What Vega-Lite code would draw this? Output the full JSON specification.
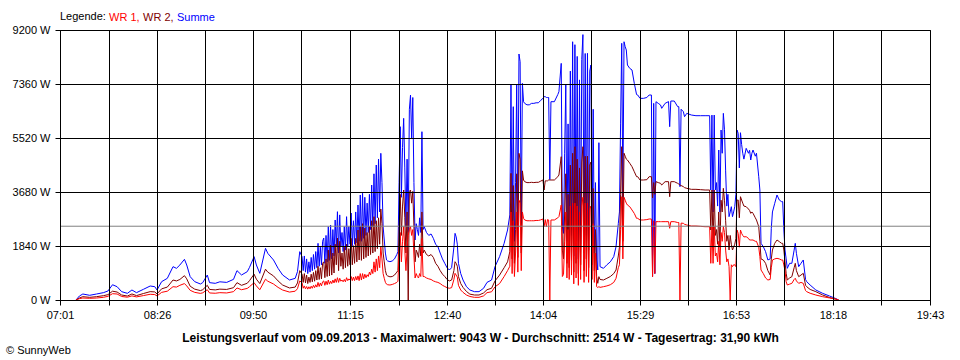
{
  "$schema": "https://vega.github.io/schema/vega-lite/v6.json",
  "width": 870,
  "height": 270,
  "autosize": "none",
  "padding": {"left": 60, "top": 30, "right": 30, "bottom": 60},
  "background": "#ffffff",
  "config": {
    "view": {"stroke": "#000000", "strokeWidth": 1},
    "font": "Liberation Sans"
  },
  "title": {"text": "© SunnyWeb", "orient": "bottom", "anchor": "start", "frame": "group", "dx": -54, "offset": 2, "font": "Liberation Sans", "fontSize": 11, "fontWeight": "normal", "color": "#000000", "baseline": "top"},
  "data": {
    "format": {"parse": {"t": "date:'%H:%M'"}},
    "values": [
      {"t":"07:15","wr1":0,"wr2":0,"summe":0},
      {"t":"07:18","wr1":45,"wr2":68,"summe":136},
      {"t":"07:21","wr1":68,"wr2":113,"summe":204},
      {"t":"07:27","wr1":57,"wr2":91,"summe":160},
      {"t":"07:33","wr1":68,"wr2":113,"summe":204},
      {"t":"07:39","wr1":91,"wr2":147,"summe":250},
      {"t":"07:43","wr1":125,"wr2":182,"summe":307},
      {"t":"07:47","wr1":215,"wr2":300,"summe":520},
      {"t":"07:51","wr1":204,"wr2":272,"summe":454},
      {"t":"07:55","wr1":120,"wr2":170,"summe":284},
      {"t":"08:00","wr1":95,"wr2":135,"summe":227},
      {"t":"08:04","wr1":140,"wr2":205,"summe":341},
      {"t":"08:08","wr1":105,"wr2":150,"summe":250},
      {"t":"08:14","wr1":150,"wr2":220,"summe":363},
      {"t":"08:20","wr1":195,"wr2":285,"summe":477},
      {"t":"08:24","wr1":185,"wr2":275,"summe":454},
      {"t":"08:26","wr1":140,"wr2":205,"summe":341},
      {"t":"08:30","wr1":260,"wr2":380,"summe":625},
      {"t":"08:35","wr1":300,"wr2":440,"summe":738},
      {"t":"08:40","wr1":454,"wr2":681,"summe":1136},
      {"t":"08:43","wr1":440,"wr2":650,"summe":1079},
      {"t":"08:46","wr1":500,"wr2":700,"summe":1193},
      {"t":"08:50","wr1":560,"wr2":829,"summe":1386},
      {"t":"08:52","wr1":480,"wr2":720,"summe":1193},
      {"t":"08:55","wr1":330,"wr2":470,"summe":795},
      {"t":"08:59","wr1":260,"wr2":370,"summe":625},
      {"t":"09:04","wr1":225,"wr2":320,"summe":545},
      {"t":"09:06","wr1":245,"wr2":350,"summe":591},
      {"t":"09:10","wr1":350,"wr2":500,"summe":850},
      {"t":"09:12","wr1":240,"wr2":360,"summe":591},
      {"t":"09:17","wr1":230,"wr2":345,"summe":568},
      {"t":"09:21","wr1":250,"wr2":370,"summe":620},
      {"t":"09:27","wr1":240,"wr2":360,"summe":600},
      {"t":"09:33","wr1":285,"wr2":420,"summe":704},
      {"t":"09:36","wr1":410,"wr2":590,"summe":1000},
      {"t":"09:40","wr1":350,"wr2":500,"summe":852},
      {"t":"09:45","wr1":395,"wr2":570,"summe":965},
      {"t":"09:47","wr1":454,"wr2":660,"summe":1113},
      {"t":"09:51","wr1":590,"wr2":880,"summe":1477},
      {"t":"09:53","wr1":480,"wr2":710,"summe":1193},
      {"t":"09:56","wr1":350,"wr2":560,"summe":909},
      {"t":"10:01","wr1":710,"wr2":1050,"summe":1761},
      {"t":"10:03","wr1":640,"wr2":950,"summe":1590},
      {"t":"10:08","wr1":545,"wr2":820,"summe":1363},
      {"t":"10:12","wr1":430,"wr2":650,"summe":1079},
      {"t":"10:16","wr1":340,"wr2":510,"summe":852},
      {"t":"10:22","wr1":270,"wr2":410,"summe":681},
      {"t":"10:27","wr1":300,"wr2":440,"summe":738},
      {"t":"10:29","wr1":385,"wr2":580,"summe":965},
      {"t":"10:31","wr1":650,"wr2":1000,"summe":1647},
      {"t":"10:33","wr1":590,"wr2":880,"summe":1477},
      {"t":"10:34","wr1":400,"wr2":600,"summe":1000},
      {"t":"10:35","wr1":480,"wr2":900,"summe":1500},
      {"t":"10:36","wr1":380,"wr2":580,"summe":950},
      {"t":"10:37","wr1":460,"wr2":850,"summe":1400},
      {"t":"10:38","wr1":370,"wr2":560,"summe":900},
      {"t":"10:39","wr1":450,"wr2":780,"summe":1300},
      {"t":"10:40","wr1":380,"wr2":600,"summe":950},
      {"t":"10:41","wr1":470,"wr2":880,"summe":1450},
      {"t":"10:42","wr1":400,"wr2":620,"summe":1000},
      {"t":"10:43","wr1":500,"wr2":940,"summe":1550},
      {"t":"10:44","wr1":420,"wr2":640,"summe":1050},
      {"t":"10:45","wr1":520,"wr2":1000,"summe":1650},
      {"t":"10:46","wr1":440,"wr2":680,"summe":1100},
      {"t":"10:47","wr1":600,"wr2":1150,"summe":1931},
      {"t":"10:48","wr1":460,"wr2":700,"summe":1150},
      {"t":"10:49","wr1":580,"wr2":1100,"summe":1800},
      {"t":"10:50","wr1":480,"wr2":720,"summe":1200},
      {"t":"10:51","wr1":620,"wr2":1250,"summe":2000},
      {"t":"10:52","wr1":650,"wr2":1300,"summe":2112},
      {"t":"10:53","wr1":500,"wr2":760,"summe":1250},
      {"t":"10:54","wr1":640,"wr2":1400,"summe":2200},
      {"t":"10:55","wr1":520,"wr2":800,"summe":1300},
      {"t":"10:56","wr1":680,"wr2":1700,"summe":2500},
      {"t":"10:57","wr1":540,"wr2":820,"summe":1350},
      {"t":"10:58","wr1":640,"wr2":1874,"summe":2555},
      {"t":"10:59","wr1":560,"wr2":850,"summe":1400},
      {"t":"11:00","wr1":680,"wr2":1600,"summe":2400},
      {"t":"11:01","wr1":580,"wr2":920,"summe":1500},
      {"t":"11:02","wr1":720,"wr2":1900,"summe":2726},
      {"t":"11:03","wr1":600,"wr2":1200,"summe":1817},
      {"t":"11:04","wr1":760,"wr2":2112,"summe":3009},
      {"t":"11:05","wr1":600,"wr2":1000,"summe":1600},
      {"t":"11:06","wr1":740,"wr2":2000,"summe":2900},
      {"t":"11:07","wr1":640,"wr2":1150,"summe":1817},
      {"t":"11:08","wr1":680,"wr2":1600,"summe":2300},
      {"t":"11:09","wr1":620,"wr2":1050,"summe":1650},
      {"t":"11:10","wr1":700,"wr2":1800,"summe":2500},
      {"t":"11:11","wr1":620,"wr2":1100,"summe":1700},
      {"t":"11:12","wr1":760,"wr2":1900,"summe":2839},
      {"t":"11:13","wr1":660,"wr2":1150,"summe":1817},
      {"t":"11:14","wr1":720,"wr2":1750,"summe":2500},
      {"t":"11:15","wr1":680,"wr2":1200,"summe":1900},
      {"t":"11:16","wr1":800,"wr2":2100,"summe":2964},
      {"t":"11:17","wr1":660,"wr2":1200,"summe":1850},
      {"t":"11:18","wr1":780,"wr2":1850,"summe":2700},
      {"t":"11:19","wr1":660,"wr2":1250,"summe":1900},
      {"t":"11:20","wr1":800,"wr2":2100,"summe":3000},
      {"t":"11:21","wr1":680,"wr2":1300,"summe":1950},
      {"t":"11:22","wr1":820,"wr2":2385,"summe":3237},
      {"t":"11:23","wr1":660,"wr2":1363,"summe":2000},
      {"t":"11:24","wr1":900,"wr2":2500,"summe":3578},
      {"t":"11:25","wr1":680,"wr2":1350,"summe":2000},
      {"t":"11:26","wr1":900,"wr2":2600,"summe":3635},
      {"t":"11:27","wr1":720,"wr2":1400,"summe":2100},
      {"t":"11:28","wr1":880,"wr2":2450,"summe":3500},
      {"t":"11:29","wr1":760,"wr2":1450,"summe":2200},
      {"t":"11:30","wr1":860,"wr2":2300,"summe":3300},
      {"t":"11:31","wr1":800,"wr2":1500,"summe":2300},
      {"t":"11:32","wr1":950,"wr2":2500,"summe":3600},
      {"t":"11:33","wr1":850,"wr2":1550,"summe":2400},
      {"t":"11:34","wr1":1050,"wr2":2700,"summe":3918},
      {"t":"11:35","wr1":900,"wr2":1600,"summe":2500},
      {"t":"11:36","wr1":1300,"wr2":2839,"summe":4300},
      {"t":"11:37","wr1":950,"wr2":1650,"summe":2600},
      {"t":"11:38","wr1":1400,"wr2":2700,"summe":4600},
      {"t":"11:39","wr1":1000,"wr2":1750,"summe":2800},
      {"t":"11:40","wr1":1500,"wr2":2800,"summe":4800},
      {"t":"11:41","wr1":1100,"wr2":1900,"summe":3000},
      {"t":"11:42","wr1":1817,"wr2":3100,"summe":4998},
      {"t":"11:43","wr1":1400,"wr2":2600,"summe":4000},
      {"t":"11:44","wr1":900,"wr2":1600,"summe":2500},
      {"t":"11:45","wr1":740,"wr2":1300,"summe":2044},
      {"t":"11:46","wr1":600,"wr2":1000,"summe":1600},
      {"t":"11:47","wr1":540,"wr2":850,"summe":1363},
      {"t":"11:48","wr1":520,"wr2":820,"summe":1330},
      {"t":"11:50","wr1":511,"wr2":790,"summe":1305},
      {"t":"11:52","wr1":530,"wr2":800,"summe":1330},
      {"t":"11:54","wr1":560,"wr2":850,"summe":1400},
      {"t":"11:56","wr1":600,"wr2":950,"summe":1550},
      {"t":"11:57","wr1":640,"wr2":1000,"summe":1647},
      {"t":"11:58","wr1":1600,"wr2":2400,"summe":4000},
      {"t":"11:59","wr1":2300,"wr2":3600,"summe":5906},
      {"t":"12:00","wr1":1300,"wr2":2200,"summe":3500},
      {"t":"12:01","wr1":2000,"wr2":3200,"summe":5200},
      {"t":"12:02","wr1":2498,"wr2":3748,"summe":6190},
      {"t":"12:03","wr1":1700,"wr2":2800,"summe":4500},
      {"t":"12:04","wr1":1000,"wr2":1600,"summe":2500},
      {"t":"12:05","wr1":1800,"wr2":3000,"summe":4800},
      {"t":"12:06","wr1":2200,"wr2":0,"summe":2300},
      {"t":"12:07","wr1":2400,"wr2":3700,"summe":6500},
      {"t":"12:08","wr1":2498,"wr2":3748,"summe":6985},
      {"t":"12:09","wr1":2200,"wr2":3300,"summe":5500},
      {"t":"12:10","wr1":2400,"wr2":3700,"summe":6900},
      {"t":"12:11","wr1":1500,"wr2":2500,"summe":4000},
      {"t":"12:12","wr1":750,"wr2":1300,"summe":2044},
      {"t":"12:13","wr1":900,"wr2":1700,"summe":2600},
      {"t":"12:14","wr1":800,"wr2":1600,"summe":2400},
      {"t":"12:15","wr1":750,"wr2":1450,"summe":2200},
      {"t":"12:16","wr1":900,"wr2":1900,"summe":2800},
      {"t":"12:17","wr1":800,"wr2":1500,"summe":2300},
      {"t":"12:18","wr1":2100,"wr2":3000,"summe":5735},
      {"t":"12:19","wr1":800,"wr2":1600,"summe":2400},
      {"t":"12:20","wr1":800,"wr2":1700,"summe":2500},
      {"t":"12:22","wr1":750,"wr2":1550,"summe":2300},
      {"t":"12:24","wr1":720,"wr2":1500,"summe":2200},
      {"t":"12:26","wr1":700,"wr2":1550,"summe":2250},
      {"t":"12:28","wr1":650,"wr2":1450,"summe":2100},
      {"t":"12:30","wr1":620,"wr2":1250,"summe":1900},
      {"t":"12:32","wr1":600,"wr2":1150,"summe":1817},
      {"t":"12:34","wr1":560,"wr2":1000,"summe":1600},
      {"t":"12:36","wr1":500,"wr2":880,"summe":1400},
      {"t":"12:38","wr1":460,"wr2":800,"summe":1250},
      {"t":"12:40","wr1":420,"wr2":700,"summe":1100},
      {"t":"12:42","wr1":400,"wr2":650,"summe":1022},
      {"t":"12:44","wr1":420,"wr2":680,"summe":1100},
      {"t":"12:46","wr1":700,"wr2":1000,"summe":1800},
      {"t":"12:47","wr1":909,"wr2":1305,"summe":2271},
      {"t":"12:48","wr1":850,"wr2":1250,"summe":2150},
      {"t":"12:49","wr1":780,"wr2":1150,"summe":1900},
      {"t":"12:50","wr1":500,"wr2":800,"summe":1250},
      {"t":"12:52","wr1":340,"wr2":560,"summe":900},
      {"t":"12:54","wr1":260,"wr2":430,"summe":681},
      {"t":"12:57","wr1":170,"wr2":290,"summe":454},
      {"t":"13:00","wr1":120,"wr2":200,"summe":341},
      {"t":"13:04","wr1":91,"wr2":170,"summe":284},
      {"t":"13:08","wr1":91,"wr2":170,"summe":284},
      {"t":"13:12","wr1":140,"wr2":240,"summe":400},
      {"t":"13:15","wr1":250,"wr2":350,"summe":600},
      {"t":"13:19","wr1":280,"wr2":400,"summe":681},
      {"t":"13:22","wr1":450,"wr2":650,"summe":1136},
      {"t":"13:26","wr1":560,"wr2":850,"summe":1477},
      {"t":"13:30","wr1":800,"wr2":1100,"summe":1931},
      {"t":"13:33","wr1":1000,"wr2":1300,"summe":2385},
      {"t":"13:35","wr1":1150,"wr2":1650,"summe":2900},
      {"t":"13:36","wr1":3000,"wr2":4316,"summe":7326},
      {"t":"13:37","wr1":900,"wr2":1400,"summe":2300},
      {"t":"13:38","wr1":2700,"wr2":3900,"summe":6587},
      {"t":"13:39","wr1":800,"wr2":1250,"summe":2000},
      {"t":"13:40","wr1":1600,"wr2":2400,"summe":4000},
      {"t":"13:41","wr1":3000,"wr2":4300,"summe":7326},
      {"t":"13:42","wr1":950,"wr2":1450,"summe":2400},
      {"t":"13:43","wr1":3400,"wr2":4998,"summe":8382},
      {"t":"13:44","wr1":3300,"wr2":4800,"summe":8120},
      {"t":"13:45","wr1":1000,"wr2":1600,"summe":2600},
      {"t":"13:46","wr1":3000,"wr2":4400,"summe":7383},
      {"t":"13:47","wr1":2782,"wr2":4089,"summe":6757},
      {"t":"13:48","wr1":2726,"wr2":4032,"summe":6700},
      {"t":"13:50","wr1":2700,"wr2":4000,"summe":6650},
      {"t":"13:52","wr1":2700,"wr2":4000,"summe":6650},
      {"t":"13:54","wr1":2700,"wr2":4010,"summe":6700},
      {"t":"13:56","wr1":2700,"wr2":4000,"summe":6700},
      {"t":"13:58","wr1":2710,"wr2":4010,"summe":6720},
      {"t":"14:00","wr1":2710,"wr2":4010,"summe":6720},
      {"t":"14:02","wr1":2730,"wr2":4050,"summe":6800},
      {"t":"14:04","wr1":2760,"wr2":4089,"summe":6872},
      {"t":"14:05","wr1":2498,"wr2":3748,"summe":6928},
      {"t":"14:06","wr1":2740,"wr2":4060,"summe":6928},
      {"t":"14:07","wr1":2498,"wr2":4060,"summe":6900},
      {"t":"14:08","wr1":2740,"wr2":4060,"summe":6900},
      {"t":"14:09","wr1":2726,"wr2":4089,"summe":6900},
      {"t":"14:10","wr1":0,"wr2":4089,"summe":4100},
      {"t":"14:11","wr1":2726,"wr2":4089,"summe":6757},
      {"t":"14:14","wr1":2726,"wr2":4089,"summe":6757},
      {"t":"14:17","wr1":2800,"wr2":4200,"summe":7000},
      {"t":"14:18","wr1":2839,"wr2":4259,"summe":7098},
      {"t":"14:20","wr1":3237,"wr2":4884,"summe":8063},
      {"t":"14:21","wr1":800,"wr2":1700,"summe":2498},
      {"t":"14:22","wr1":870,"wr2":1400,"summe":2271},
      {"t":"14:23","wr1":2000,"wr2":3000,"summe":5000},
      {"t":"14:24","wr1":3000,"wr2":4300,"summe":7326},
      {"t":"14:25","wr1":750,"wr2":1250,"summe":2000},
      {"t":"14:26","wr1":2400,"wr2":3600,"summe":6000},
      {"t":"14:27","wr1":700,"wr2":1100,"summe":1800},
      {"t":"14:28","wr1":3200,"wr2":4600,"summe":7800},
      {"t":"14:29","wr1":850,"wr2":1350,"summe":2200},
      {"t":"14:30","wr1":3300,"wr2":5000,"summe":8800},
      {"t":"14:31","wr1":550,"wr2":950,"summe":1500},
      {"t":"14:32","wr1":3300,"wr2":5224,"summe":8700},
      {"t":"14:33","wr1":750,"wr2":1250,"summe":2000},
      {"t":"14:34","wr1":3200,"wr2":4800,"summe":8300},
      {"t":"14:35","wr1":500,"wr2":900,"summe":1400},
      {"t":"14:36","wr1":3000,"wr2":4500,"summe":7500},
      {"t":"14:37","wr1":700,"wr2":1200,"summe":1900},
      {"t":"14:38","wr1":3200,"wr2":4700,"summe":8200},
      {"t":"14:39","wr1":3500,"wr2":5224,"summe":9043},
      {"t":"14:40","wr1":600,"wr2":1000,"summe":1600},
      {"t":"14:41","wr1":3300,"wr2":4900,"summe":8400},
      {"t":"14:42","wr1":800,"wr2":1400,"summe":2200},
      {"t":"14:43","wr1":3300,"wr2":4900,"summe":8405},
      {"t":"14:44","wr1":600,"wr2":1100,"summe":1700},
      {"t":"14:45","wr1":3100,"wr2":4600,"summe":7800},
      {"t":"14:46","wr1":3200,"wr2":4700,"summe":8007},
      {"t":"14:47","wr1":700,"wr2":1200,"summe":1900},
      {"t":"14:48","wr1":2600,"wr2":3800,"summe":6500},
      {"t":"14:49","wr1":600,"wr2":1000,"summe":1600},
      {"t":"14:50","wr1":1600,"wr2":2400,"summe":4000},
      {"t":"14:51","wr1":454,"wr2":795,"summe":1363},
      {"t":"14:52","wr1":426,"wr2":568,"summe":1022},
      {"t":"14:53","wr1":454,"wr2":795,"summe":5360},
      {"t":"14:54","wr1":430,"wr2":700,"summe":1136},
      {"t":"14:57","wr1":454,"wr2":681,"summe":1079},
      {"t":"15:00","wr1":480,"wr2":740,"summe":1200},
      {"t":"15:03","wr1":520,"wr2":800,"summe":1300},
      {"t":"15:06","wr1":600,"wr2":900,"summe":1477},
      {"t":"15:08","wr1":738,"wr2":1022,"summe":1817},
      {"t":"15:10","wr1":1100,"wr2":1500,"summe":2600},
      {"t":"15:11","wr1":1200,"wr2":1800,"summe":3000},
      {"t":"15:12","wr1":2400,"wr2":3600,"summe":6000},
      {"t":"15:13","wr1":3520,"wr2":5224,"summe":8746},
      {"t":"15:14","wr1":1400,"wr2":2000,"summe":3500},
      {"t":"15:15","wr1":3500,"wr2":5000,"summe":8800},
      {"t":"15:16","wr1":3400,"wr2":4900,"summe":8632},
      {"t":"15:17","wr1":3300,"wr2":4800,"summe":8518},
      {"t":"15:18","wr1":3237,"wr2":4770,"summe":8007},
      {"t":"15:20","wr1":3180,"wr2":4660,"summe":7894},
      {"t":"15:22","wr1":3067,"wr2":4543,"summe":7837},
      {"t":"15:24","wr1":2950,"wr2":4372,"summe":7383},
      {"t":"15:26","wr1":2782,"wr2":4202,"summe":7000},
      {"t":"15:27","wr1":2782,"wr2":4202,"summe":6985},
      {"t":"15:29","wr1":2726,"wr2":4089,"summe":6871},
      {"t":"15:32","wr1":2726,"wr2":4089,"summe":6871},
      {"t":"15:35","wr1":2740,"wr2":4100,"summe":6900},
      {"t":"15:37","wr1":2760,"wr2":4202,"summe":6985},
      {"t":"15:39","wr1":2760,"wr2":4202,"summe":6985},
      {"t":"15:40","wr1":795,"wr2":3475,"summe":800},
      {"t":"15:41","wr1":2700,"wr2":4000,"summe":6700},
      {"t":"15:42","wr1":900,"wr2":3600,"summe":900},
      {"t":"15:43","wr1":2669,"wr2":4032,"summe":6757},
      {"t":"15:45","wr1":2669,"wr2":4000,"summe":6700},
      {"t":"15:47","wr1":2669,"wr2":3975,"summe":6644},
      {"t":"15:48","wr1":2669,"wr2":3918,"summe":6531},
      {"t":"15:51","wr1":2669,"wr2":4032,"summe":6701},
      {"t":"15:54","wr1":2669,"wr2":4032,"summe":6760},
      {"t":"15:55","wr1":2443,"wr2":3520,"summe":5906},
      {"t":"15:56","wr1":2669,"wr2":4032,"summe":6780},
      {"t":"15:59","wr1":2669,"wr2":4032,"summe":6780},
      {"t":"16:02","wr1":2640,"wr2":3975,"summe":6587},
      {"t":"16:03","wr1":2640,"wr2":3950,"summe":6587},
      {"t":"16:04","wr1":0,"wr2":3918,"summe":3862},
      {"t":"16:05","wr1":2620,"wr2":3900,"summe":6500},
      {"t":"16:07","wr1":2612,"wr2":3862,"summe":6416},
      {"t":"16:08","wr1":2580,"wr2":3830,"summe":6246},
      {"t":"16:10","wr1":2555,"wr2":3805,"summe":6360},
      {"t":"16:14","wr1":2521,"wr2":3771,"summe":6303},
      {"t":"16:18","wr1":2521,"wr2":3771,"summe":6280},
      {"t":"16:22","wr1":2510,"wr2":3760,"summe":6280},
      {"t":"16:26","wr1":2498,"wr2":3748,"summe":6280},
      {"t":"16:30","wr1":2498,"wr2":3748,"summe":6280},
      {"t":"16:31","wr1":1250,"wr2":2385,"summe":3748},
      {"t":"16:32","wr1":2498,"wr2":3748,"summe":6300},
      {"t":"16:33","wr1":1250,"wr2":1800,"summe":3000},
      {"t":"16:34","wr1":2498,"wr2":3748,"summe":6303},
      {"t":"16:35","wr1":1500,"wr2":2200,"summe":3748},
      {"t":"16:36","wr1":1600,"wr2":2400,"summe":4000},
      {"t":"16:37","wr1":1300,"wr2":1900,"summe":3200},
      {"t":"16:38","wr1":2000,"wr2":3000,"summe":5111},
      {"t":"16:39","wr1":1200,"wr2":1800,"summe":3000},
      {"t":"16:40","wr1":2300,"wr2":3400,"summe":5792},
      {"t":"16:41","wr1":2000,"wr2":3000,"summe":5000},
      {"t":"16:42","wr1":2500,"wr2":3805,"summe":6360},
      {"t":"16:43","wr1":2300,"wr2":3400,"summe":5800},
      {"t":"16:44","wr1":1700,"wr2":2700,"summe":4400},
      {"t":"16:45","wr1":1300,"wr2":2000,"summe":3200},
      {"t":"16:46","wr1":1400,"wr2":2200,"summe":3600},
      {"t":"16:47","wr1":1136,"wr2":1704,"summe":2839},
      {"t":"16:48","wr1":0,"wr2":2200,"summe":3000},
      {"t":"16:49","wr1":1200,"wr2":1900,"summe":3180},
      {"t":"16:50","wr1":1136,"wr2":1704,"summe":2839},
      {"t":"16:51","wr1":1200,"wr2":1800,"summe":3000},
      {"t":"16:52","wr1":1200,"wr2":1900,"summe":3180},
      {"t":"16:53","wr1":1136,"wr2":2100,"summe":3600},
      {"t":"16:54","wr1":2385,"wr2":3400,"summe":5792},
      {"t":"16:55","wr1":2271,"wr2":3407,"summe":5679},
      {"t":"16:56","wr1":1800,"wr2":2800,"summe":4500},
      {"t":"16:57","wr1":2385,"wr2":3520,"summe":5700},
      {"t":"16:58","wr1":2271,"wr2":3407,"summe":5300},
      {"t":"16:59","wr1":2200,"wr2":3300,"summe":5000},
      {"t":"17:00","wr1":2150,"wr2":3200,"summe":4800},
      {"t":"17:02","wr1":2157,"wr2":3180,"summe":5168},
      {"t":"17:04","wr1":2100,"wr2":3100,"summe":5000},
      {"t":"17:05","wr1":2044,"wr2":3050,"summe":5100},
      {"t":"17:06","wr1":2044,"wr2":2953,"summe":4770},
      {"t":"17:07","wr1":2044,"wr2":3000,"summe":5000},
      {"t":"17:08","wr1":2044,"wr2":2953,"summe":5111},
      {"t":"17:10","wr1":2000,"wr2":2800,"summe":4900},
      {"t":"17:11","wr1":2000,"wr2":2726,"summe":5000},
      {"t":"17:13","wr1":1800,"wr2":2500,"summe":4200},
      {"t":"17:14","wr1":1477,"wr2":2000,"summe":3748},
      {"t":"17:15","wr1":1022,"wr2":1400,"summe":1931},
      {"t":"17:17","wr1":900,"wr2":1363,"summe":1817},
      {"t":"17:19","wr1":750,"wr2":1250,"summe":1647},
      {"t":"17:21","wr1":681,"wr2":1000,"summe":1363},
      {"t":"17:23","wr1":700,"wr2":852,"summe":1400},
      {"t":"17:24","wr1":1100,"wr2":1400,"summe":2443},
      {"t":"17:25","wr1":1363,"wr2":1704,"summe":3000},
      {"t":"17:27","wr1":1400,"wr2":1931,"summe":3294},
      {"t":"17:29","wr1":1420,"wr2":2044,"summe":3578},
      {"t":"17:31","wr1":1400,"wr2":1990,"summe":3407},
      {"t":"17:33","wr1":1363,"wr2":1931,"summe":3351},
      {"t":"17:34","wr1":1363,"wr2":1931,"summe":3351},
      {"t":"17:35","wr1":1193,"wr2":1704,"summe":2385},
      {"t":"17:36","wr1":1000,"wr2":1300,"summe":1704},
      {"t":"17:37","wr1":625,"wr2":909,"summe":1400},
      {"t":"17:38","wr1":511,"wr2":681,"summe":1079},
      {"t":"17:40","wr1":540,"wr2":750,"summe":1250},
      {"t":"17:42","wr1":568,"wr2":795,"summe":1250},
      {"t":"17:44","wr1":700,"wr2":1100,"summe":1700},
      {"t":"17:45","wr1":740,"wr2":1250,"summe":1931},
      {"t":"17:46","wr1":650,"wr2":1000,"summe":1590},
      {"t":"17:48","wr1":568,"wr2":795,"summe":1136},
      {"t":"17:50","wr1":600,"wr2":850,"summe":1250},
      {"t":"17:52","wr1":568,"wr2":909,"summe":1363},
      {"t":"17:54","wr1":320,"wr2":500,"summe":700},
      {"t":"17:55","wr1":284,"wr2":454,"summe":625},
      {"t":"17:58","wr1":230,"wr2":360,"summe":511},
      {"t":"18:03","wr1":170,"wr2":284,"summe":341},
      {"t":"18:09","wr1":113,"wr2":170,"summe":227},
      {"t":"18:15","wr1":70,"wr2":85,"summe":136},
      {"t":"18:20","wr1":40,"wr2":30,"summe":57},
      {"t":"18:23","wr1":0,"wr2":0,"summe":0}
    ]
  },
  "encoding": {
    "x": {
      "field": "t",
      "type": "temporal",
      "scale": {"domain": [{"year": 1900, "month": 1, "date": 1, "hours": 7, "minutes": 1}, {"year": 1900, "month": 1, "date": 1, "hours": 19, "minutes": 43}]},
      "axis": {
        "values": [
          {"year": 1900, "month": 1, "date": 1, "hours": 7, "minutes": 1},
          {"year": 1900, "month": 1, "date": 1, "hours": 7, "minutes": 43, "seconds": 30},
          {"year": 1900, "month": 1, "date": 1, "hours": 8, "minutes": 26},
          {"year": 1900, "month": 1, "date": 1, "hours": 9, "minutes": 8},
          {"year": 1900, "month": 1, "date": 1, "hours": 9, "minutes": 50},
          {"year": 1900, "month": 1, "date": 1, "hours": 10, "minutes": 32, "seconds": 30},
          {"year": 1900, "month": 1, "date": 1, "hours": 11, "minutes": 15},
          {"year": 1900, "month": 1, "date": 1, "hours": 11, "minutes": 57, "seconds": 30},
          {"year": 1900, "month": 1, "date": 1, "hours": 12, "minutes": 40},
          {"year": 1900, "month": 1, "date": 1, "hours": 13, "minutes": 22},
          {"year": 1900, "month": 1, "date": 1, "hours": 14, "minutes": 4},
          {"year": 1900, "month": 1, "date": 1, "hours": 14, "minutes": 46, "seconds": 30},
          {"year": 1900, "month": 1, "date": 1, "hours": 15, "minutes": 29},
          {"year": 1900, "month": 1, "date": 1, "hours": 16, "minutes": 11},
          {"year": 1900, "month": 1, "date": 1, "hours": 16, "minutes": 53},
          {"year": 1900, "month": 1, "date": 1, "hours": 17, "minutes": 35, "seconds": 30},
          {"year": 1900, "month": 1, "date": 1, "hours": 18, "minutes": 18},
          {"year": 1900, "month": 1, "date": 1, "hours": 19, "minutes": 0, "seconds": 30},
          {"year": 1900, "month": 1, "date": 1, "hours": 19, "minutes": 43}
        ],
        "format": "%H:%M",
        "labelExpr": "indexof(['07:01','08:26','09:50','11:15','12:40','14:04','15:29','16:53','18:18','19:43'], datum.label) >= 0 ? datum.label : ''",
        "grid": true, "gridColor": "#000000", "gridOpacity": 1, "gridWidth": 1,
        "domainColor": "#000000", "tickColor": "#000000", "tickSize": 5,
        "labelFont": "Liberation Sans", "labelFontSize": 11, "labelColor": "#000000", "labelPadding": 4,
        "labelFlush": false, "labelOverlap": false, "labelBound": false,
        "title": "Leistungsverlauf vom 09.09.2013 - Maximalwert: 9043 W - Durchschnitt: 2514 W - Tagesertrag: 31,90 kWh",
        "titleFont": "Liberation Sans", "titleFontSize": 12, "titleFontWeight": "bold", "titleColor": "#000000",
        "titleX": 420, "titleY": 37, "titleAlign": "center", "titleBaseline": "middle",
        "zindex": 1
      }
    }
  },
  "layer": [
    {
      "mark": {"type": "line", "strokeWidth": 1},
      "encoding": {
        "y": {"field": "summe", "type": "quantitative", "scale": {"domain": [0, 9200], "nice": false},
          "axis": {"title": null, "values": [0, 1840, 3680, 5520, 7360, 9200], "labelExpr": "datum.value + ' W'", "grid": true, "gridColor": "#000000", "gridOpacity": 1, "domainColor": "#000000", "tickColor": "#000000", "tickSize": 5, "labelFont": "Liberation Sans", "labelFontSize": 11, "labelColor": "#000000", "labelPadding": 5, "labelFlush": false, "labelOverlap": false, "labelBound": false, "zindex": 1}},
        "color": {
          "datum": "Summe",
          "scale": {"domain": ["WR 1", "WR 2", "Summe"], "range": ["#ff0000", "#800000", "#0000ff"]},
          "legend": {
            "orient": "none", "legendX": 0, "legendY": -18, "direction": "horizontal", "gridAlign": "none",
            "title": "Legende:", "titleOrient": "left", "titleFont": "Liberation Sans", "titleFontSize": 11, "titleFontWeight": "normal", "titleColor": "#000000", "titlePadding": 3,
            "symbolSize": 0, "symbolStrokeWidth": 0, "symbolOpacity": 0, "labelOffset": -11, "columnPadding": 3,
            "labelFont": "Liberation Sans", "labelFontSize": 11,
            "labelExpr": "datum.label == 'Summe' ? datum.label : datum.label + ','",
            "encode": {"labels": {"update": {"fill": {"scale": "color", "field": "value"}}}}
          }
        }
      }
    },
    {
      "mark": {"type": "line", "strokeWidth": 1},
      "encoding": {
        "y": {"field": "wr2", "type": "quantitative", "scale": {"domain": [0, 9200], "nice": false},
          "axis": {"title": null, "values": [0, 1840, 3680, 5520, 7360, 9200], "labelExpr": "datum.value + ' W'", "grid": true, "gridColor": "#000000", "gridOpacity": 1, "domainColor": "#000000", "tickColor": "#000000", "tickSize": 5, "labelFont": "Liberation Sans", "labelFontSize": 11, "labelColor": "#000000", "labelPadding": 5, "labelFlush": false, "labelOverlap": false, "labelBound": false, "zindex": 1}},
        "color": {"datum": "WR 2"}
      }
    },
    {
      "mark": {"type": "line", "strokeWidth": 1},
      "encoding": {
        "y": {"field": "wr1", "type": "quantitative", "scale": {"domain": [0, 9200], "nice": false},
          "axis": {"title": null, "values": [0, 1840, 3680, 5520, 7360, 9200], "labelExpr": "datum.value + ' W'", "grid": true, "gridColor": "#000000", "gridOpacity": 1, "domainColor": "#000000", "tickColor": "#000000", "tickSize": 5, "labelFont": "Liberation Sans", "labelFontSize": 11, "labelColor": "#000000", "labelPadding": 5, "labelFlush": false, "labelOverlap": false, "labelBound": false, "zindex": 1}},
        "color": {"datum": "WR 1"}
      }
    },
    {
      "data": {"values": [{"durchschnitt": 2514}]},
      "mark": {"type": "rule", "color": "#808080", "strokeWidth": 1},
      "encoding": {
        "x": null,
        "y": {"field": "durchschnitt", "type": "quantitative", "scale": {"domain": [0, 9200], "nice": false},
          "axis": {"title": null, "values": [0, 1840, 3680, 5520, 7360, 9200], "labelExpr": "datum.value + ' W'", "grid": true, "gridColor": "#000000", "gridOpacity": 1, "domainColor": "#000000", "tickColor": "#000000", "tickSize": 5, "labelFont": "Liberation Sans", "labelFontSize": 11, "labelColor": "#000000", "labelPadding": 5, "labelFlush": false, "labelOverlap": false, "labelBound": false, "zindex": 1}}
      }
    }
  ]
}
